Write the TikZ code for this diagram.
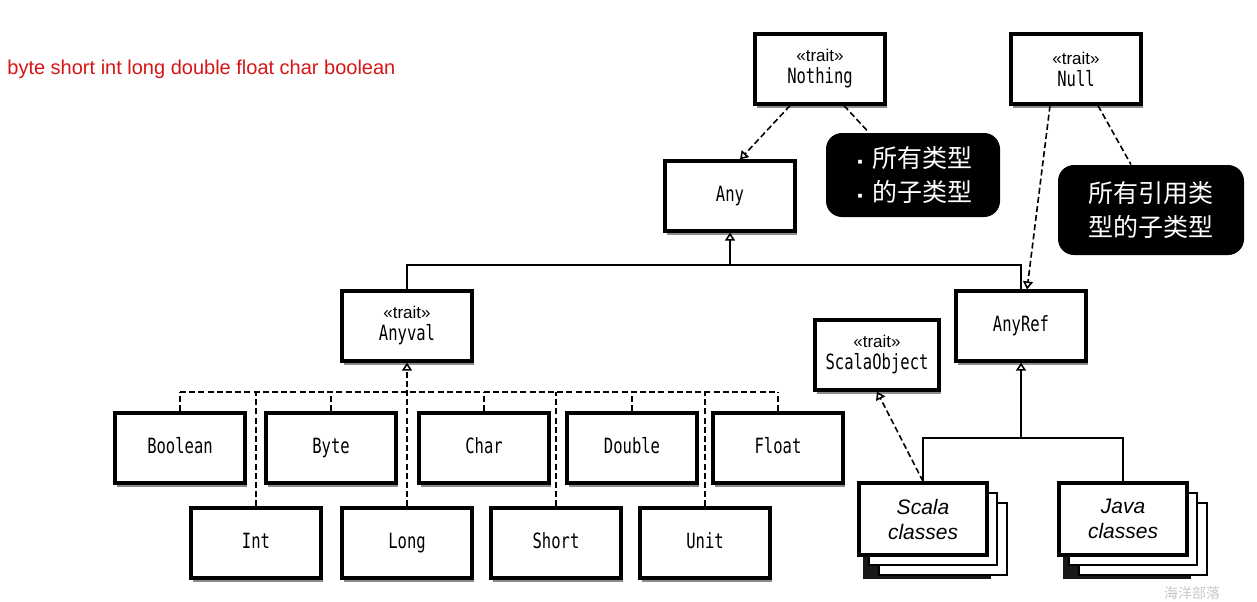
\documentclass[tikz,border=0pt]{standalone}
\usepackage{fontspec}
\setmainfont{Liberation Sans}
\newfontfamily\monofont[FakeStretch=0.74]{DejaVu Sans Mono}
\newfontfamily\cjkfont{Noto Sans CJK SC}
\usetikzlibrary{arrows.meta,positioning,shadows}
\definecolor{NoteRed}{RGB}{214,22,22}
\definecolor{MarkGray}{RGB}{200,200,200}
\newcommand{\traitline}{{\rmfamily\fontsize{8.5}{9.5}\selectfont «trait»}\\}

\begin{document}
\begin{tikzpicture}[x=0.5pt,y=-0.5pt,
    cls/.style={draw,line width=1.6pt,fill=white,minimum width=65pt,minimum height=35pt,
      align=center,inner sep=2pt,font=\monofont\fontsize{10.5}{11}\selectfont,
      drop shadow={shadow xshift=1pt,shadow yshift=-2pt,opacity=0.9}},
    one/.style={cls,text height=7.5pt,text depth=2pt},
    stack/.style={draw,line width=1.6pt,fill=white,minimum width=64pt,minimum height=36pt,
      align=center,inner sep=2pt,font=\itshape\fontsize{10.5}{12.5}\selectfont,
      drop shadow={shadow xshift=2pt,shadow yshift=-12pt,fill=black,opacity=0.9},
      double copy shadow={shadow xshift=5pt,shadow yshift=-5pt,line width=1.4pt}},
    note/.style={fill=black,text=white,rounded corners=8pt,align=left,
      font=\cjkfont\fontsize{12.5}{17}\selectfont},
    gen/.style={line width=0.8pt},
    dsh/.style={line width=0.8pt,dash pattern=on 3pt off 1.6pt},
    isa/.style={-{Triangle[open,length=4pt,width=5pt]}}]
  \useasboundingbox (0,0) rectangle (1257,601);

  % red remark
  \node[anchor=base west,inner sep=0pt,text=NoteRed,font=\fontsize{10}{12}\selectfont]
    (remark) at (7,74) {byte short int long double float char boolean};

  % top of the hierarchy
  \node[cls] (nothing) at (820,69) {\traitline Nothing};
  \node[cls] (null) at (1076,69) {\traitline Null};
  \node[note,minimum width=87pt,minimum height=42pt] (note1) at (913,175)
    {{\fontsize{7}{8}\selectfont▪} 所有类型\\{\fontsize{7}{8}\selectfont▪} 的子类型};
  \node[note,minimum width=93pt,minimum height=45pt,align=center] (note2) at (1151,210)
    {所有引用类\\型的子类型};
  \node[one] (any) at (730,196) {Any};
  \node[cls] (anyval) at (407,326) {\traitline Anyval};
  \node[one] (anyref) at (1021,326) {AnyRef};
  \node[cls,minimum width=62pt] (scalaobj) at (877,355) {\traitline ScalaObject};

  % value classes
  \node[one] (boolean) at (180,448) {Boolean};
  \node[one] (byte) at (331,448) {Byte};
  \node[one] (char) at (484,448) {Char};
  \node[one] (double) at (632,448) {Double};
  \node[one] (float) at (778,448) {Float};
  \node[one] (int) at (256,543) {Int};
  \node[one] (long) at (407,543) {Long};
  \node[one] (short) at (556,543) {Short};
  \node[one] (unit) at (705,543) {Unit};

  % reference classes
  \node[stack] (scala) at (923,519) {Scala\\classes};
  \node[stack] (java) at (1123,519) {Java\\classes};

  % connectors
  \draw[dsh,isa] ([xshift=-15pt]nothing.south) -- ([xshift=5pt]any.north);
  \draw[dsh] ([xshift=12pt]nothing.south) -- ([xshift=-22pt]note1.north);
  \draw[dsh,isa] ([xshift=-13pt]null.south) -- ([xshift=3pt]anyref.north);
  \draw[dsh] ([xshift=11pt]null.south) -- ([xshift=-10pt]note2.north);

  \coordinate (anybus) at (730,265);
  \draw[gen] (anyval.north) |- (anybus) -| (anyref.north);
  \draw[gen,isa] (anybus) -- (any.south);

  \coordinate (valbus) at (407,392);
  \draw[dsh,isa] (long.north) -- (anyval.south);
  \draw[dsh] (boolean.north |- valbus) -- (float.north |- valbus);
  \foreach \v in {boolean,byte,char,double,float,int,short,unit}
    \draw[dsh] (\v.north) -- (\v.north |- valbus);

  \coordinate (refbus) at (1021,438);
  \draw[gen] (scala.north) |- (refbus) -| (java.north);
  \draw[gen,isa] (refbus) -- (anyref.south);
  \draw[dsh,isa] (scala.north) -- (scalaobj.south);

  % watermark
  \node[text=MarkGray,font=\cjkfont\fontsize{7}{8}\selectfont] (mark) at (1192,593) {海洋部落};
\end{tikzpicture}
\end{document}
